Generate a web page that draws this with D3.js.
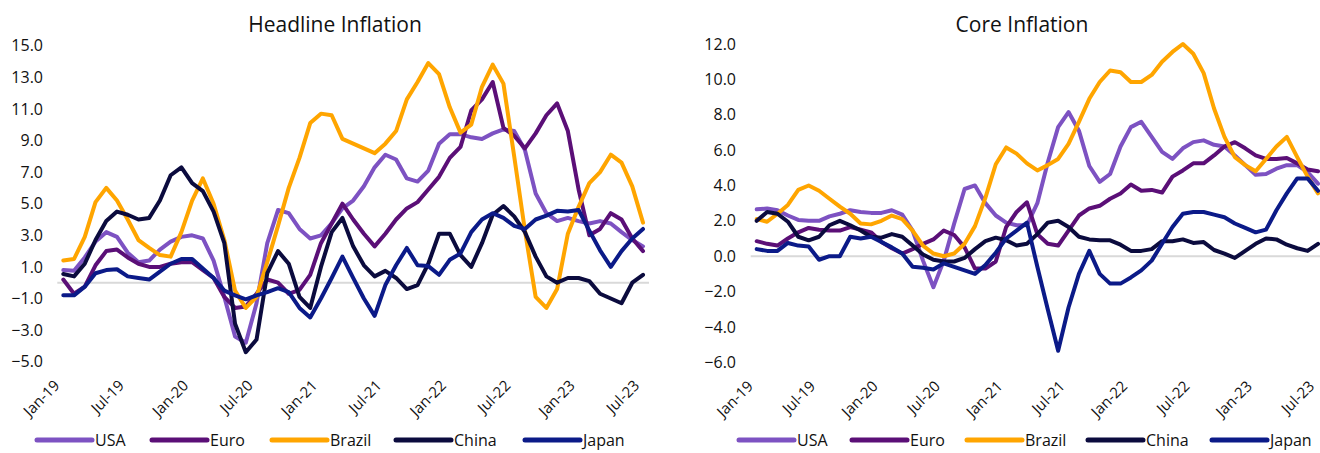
<!DOCTYPE html>
<html>
<head>
<meta charset="utf-8">
<script src="https://cdn.jsdelivr.net/npm/d3@7"></script>
<style>
  body { margin: 0; background: #fff; }
  svg { display: block; font-family: "Open Sans", sans-serif; }
</style>
</head>
<body>
<div id="chart"></div>
<script>
// DATA (monthly, Jan-19 .. Jul-23)
var tickLabels = ["Jan-19","Jul-19","Jan-20","Jul-20","Jan-21","Jul-21","Jan-22","Jul-22","Jan-23","Jul-23"];
var seriesNames = ["USA","Euro","Brazil","China","Japan"];
var seriesColors = ["#7d52c2","#5b0f77","#ffa500","#0b0b3e","#0b1a88"];

// headline
var headUSA = [0.8,0.75,1.6,2.6,3.2,2.9,1.9,1.3,1.4,2.1,2.6,2.9,3.0,2.8,1.4,-0.9,-3.4,-3.8,-1.3,2.5,4.6,4.4,3.4,2.8,3.0,3.75,4.7,5.2,6.1,7.3,8.1,7.8,6.6,6.4,7.1,8.8,9.4,9.4,9.2,9.1,9.45,9.7,9.6,8.4,5.65,4.4,3.9,4.1,3.9,3.75,3.9,3.75,3.2,2.7,2.3];
var headEuro = [0.2,-0.7,-0.25,1.1,2.0,2.1,1.6,1.2,1.0,1.0,1.2,1.3,1.3,0.8,0.3,-0.9,-1.6,-1.5,-0.7,0.2,0.0,-0.7,-0.45,0.5,2.5,3.75,5.0,4.0,3.1,2.3,3.1,4.0,4.7,5.1,5.9,6.7,7.9,8.6,10.9,11.6,12.7,9.8,9.3,8.5,9.45,10.6,11.35,9.6,5.9,3.0,3.4,4.4,4.0,2.8,2.0];
var headBrazil = [1.4,1.5,2.9,5.1,6.0,5.2,4.0,2.7,2.2,1.75,1.65,3.2,5.2,6.6,5.0,2.7,-0.5,-1.6,-0.9,1.3,3.6,6.0,7.9,10.1,10.7,10.6,9.1,8.8,8.5,8.2,8.8,9.6,11.6,12.7,13.9,13.2,11.1,9.5,10.0,12.4,13.8,12.6,8.0,3.3,-0.9,-1.6,-0.4,3.1,4.8,6.3,7.0,8.1,7.6,6.1,3.8];
var headChina = [0.55,0.4,1.2,2.7,3.9,4.5,4.3,4.0,4.1,5.2,6.8,7.3,6.3,5.8,4.5,2.5,-2.6,-4.4,-3.6,0.6,2.0,1.2,-0.9,-1.6,1.0,3.2,4.1,2.3,1.1,0.4,0.75,0.3,-0.4,-0.15,1.2,3.1,3.1,1.75,1.0,2.5,4.3,4.85,4.2,3.2,1.65,0.4,0.0,0.3,0.3,0.1,-0.7,-1.0,-1.3,0.0,0.5];
var headJapan = [-0.8,-0.8,-0.25,0.6,0.8,0.85,0.4,0.3,0.2,0.7,1.2,1.5,1.5,0.9,0.3,-0.5,-0.8,-1.05,-0.8,-0.6,-0.35,-0.6,-1.6,-2.2,-1.0,0.3,1.65,0.3,-1.0,-2.1,-0.15,1.1,2.2,1.1,1.05,0.5,1.45,1.85,3.2,4.0,4.4,4.1,3.6,3.4,4.0,4.25,4.55,4.5,4.6,3.3,2.05,1.0,2.0,2.8,3.4];

// core
var coreUSA = [2.65,2.7,2.6,2.3,2.05,2.0,2.0,2.25,2.4,2.6,2.5,2.45,2.45,2.6,2.35,1.45,-0.25,-1.75,-0.25,1.85,3.8,4.0,3.0,2.3,1.9,1.75,1.75,3.0,5.3,7.3,8.15,7.1,5.1,4.2,4.65,6.2,7.3,7.6,6.75,5.9,5.5,6.1,6.45,6.55,6.3,6.2,5.7,5.15,4.6,4.65,4.95,5.15,5.15,4.75,4.1];
var coreEuro = [0.85,0.7,0.6,1.0,1.35,1.6,1.5,1.45,1.45,1.65,1.5,1.35,0.8,0.45,0.15,0.4,0.7,0.95,1.45,1.2,0.5,-0.7,-0.7,-0.3,1.65,2.5,3.05,1.25,0.7,0.6,1.45,2.3,2.7,2.85,3.25,3.55,4.05,3.7,3.75,3.6,4.5,4.85,5.25,5.25,5.7,6.2,6.45,6.1,5.7,5.5,5.5,5.55,5.25,4.9,4.8];
var coreBrazil = [2.1,1.95,2.4,2.9,3.75,4.0,3.7,3.25,2.8,2.4,1.85,1.8,2.0,2.3,2.1,1.45,0.6,0.15,0.0,0.15,0.7,1.7,3.3,5.2,6.15,5.8,5.25,4.85,5.15,5.5,6.35,7.6,8.9,9.85,10.5,10.4,9.85,9.85,10.25,11.0,11.55,12.0,11.45,10.35,8.35,6.75,5.6,5.15,4.8,5.5,6.2,6.75,5.6,4.5,3.55];
var coreChina = [2.0,2.5,2.4,1.95,1.1,0.9,1.1,1.75,2.0,1.75,1.45,1.1,1.05,1.25,1.1,0.6,0.1,-0.2,-0.3,-0.3,-0.1,0.4,0.85,1.05,0.9,0.6,0.7,1.25,1.9,2.0,1.65,1.1,0.95,0.9,0.9,0.65,0.3,0.3,0.4,0.85,0.85,0.95,0.75,0.8,0.35,0.15,-0.1,0.3,0.7,1.0,0.95,0.65,0.45,0.3,0.7];
var coreJapan = [0.4,0.3,0.3,0.75,0.6,0.55,-0.2,0.0,0.0,1.1,1.0,1.1,0.8,0.5,0.15,-0.6,-0.65,-0.75,-0.4,-0.6,-0.8,-1.0,-0.5,0.2,1.0,1.45,1.9,-0.6,-3.0,-5.35,-2.9,-1.0,0.3,-1.0,-1.55,-1.55,-1.2,-0.8,-0.25,0.7,1.65,2.4,2.5,2.5,2.35,2.2,1.85,1.6,1.35,1.5,2.6,3.55,4.4,4.4,3.7];

var headTicks = [-5,-3,-1,1,3,5,7,9,11,13,15];
var coreTicks = [-6,-4,-2,0,2,4,6,8,10,12];

var width = 1320, height = 453;

var svg = d3.select("#chart").append("svg")
	.attr("width", width)
	.attr("height", height);

function drawPanel(opts){
	var x = d3.scaleLinear().domain([0, 54]).range([opts.x0, opts.x1]);
	var y = d3.scaleLinear().domain(opts.domain).range([opts.yBottom, opts.yTop]);
	var g = svg.append("g");

	// title
	g.append("text")
		.attr("x", opts.titleX)
		.attr("y", 32)
		.attr("text-anchor", "middle")
		.style("font-size", "21px")
		.style("fill", "#111")
		.text(opts.title);

	// y axis labels
	var yAxis = d3.axisLeft(y).tickValues(opts.ticks).tickFormat(d3.format(".1f")).tickSize(0).tickPadding(0);
	var ya = g.append("g").attr("transform", "translate(" + opts.yLabelX + ",0)").call(yAxis);
	ya.select(".domain").remove();
	ya.selectAll("text").style("font-size", "16px").style("fill", "#111").style("font-family", "'Open Sans', sans-serif");

	// zero line
	g.append("line")
		.attr("x1", opts.x0 - 6).attr("x2", opts.x1 + 6)
		.attr("y1", y(0)).attr("y2", y(0))
		.attr("stroke", "#d9d9d9")
		.attr("stroke-width", 2);

	// x labels (every 6 months), rotated
	var xAxis = d3.axisBottom(x)
		.tickValues(d3.range(0, 55, 6))
		.tickFormat(function(d){ return tickLabels[d/6]; })
		.tickSize(0);
	var xa = g.append("g").attr("transform", "translate(0," + (opts.yBottom + 10) + ")").call(xAxis);
	xa.select(".domain").remove();
	xa.selectAll("text")
		.style("font-size", "15px")
		.style("fill", "#111")
		.style("font-family", "'Open Sans', sans-serif")
		.attr("text-anchor", "end")
		.attr("dx", "-0.85em")
		.attr("dy", "0.35em")
		.attr("transform", "rotate(-45)");

	// lines
	var line = d3.line()
		.x(function(d, i){ return x(i); })
		.y(function(d){ return y(d); });

	g.selectAll(".series")
		.data(opts.series)
		.enter().append("path")
			.attr("class", "series")
			.attr("d", function(d){ return line(d); })
			.attr("fill", "none")
			.attr("stroke", function(d, i){ return seriesColors[i]; })
			.attr("stroke-width", 4)
			.attr("stroke-linejoin", "round")
			.attr("stroke-linecap", "round");

	// legend
	var lg = g.selectAll(".legend")
		.data(seriesNames)
		.enter().append("g")
			.attr("transform", function(d, i){ return "translate(" + opts.legendX[i] + ",440)"; });
	lg.append("line")
		.attr("x1", -58).attr("x2", -3)
		.attr("y1", 0).attr("y2", 0)
		.attr("stroke", function(d, i){ return seriesColors[i]; })
		.attr("stroke-width", 5)
		.attr("stroke-linecap", "round");
	lg.append("text")
		.attr("x", 0)
		.attr("y", 6)
		.style("font-size", "16px")
		.style("fill", "#111")
		.text(function(d){ return d; });
}

drawPanel({
	title: "Headline Inflation", titleX: 335,
	x0: 63.3, x1: 643, yTop: 45.7, yBottom: 361.7,
	domain: [-5, 15], ticks: headTicks, yLabelX: 43,
	series: [headUSA, headEuro, headBrazil, headChina, headJapan],
	legendX: [95, 210, 330, 454, 583]
});

drawPanel({
	title: "Core Inflation", titleX: 1022,
	x0: 756.7, x1: 1318, yTop: 44, yBottom: 362.3,
	domain: [-6, 12], ticks: coreTicks, yLabelX: 736,
	series: [coreUSA, coreEuro, coreBrazil, coreChina, coreJapan],
	legendX: [797, 910, 1025, 1146, 1270]
});
</script>
</body>
</html>
